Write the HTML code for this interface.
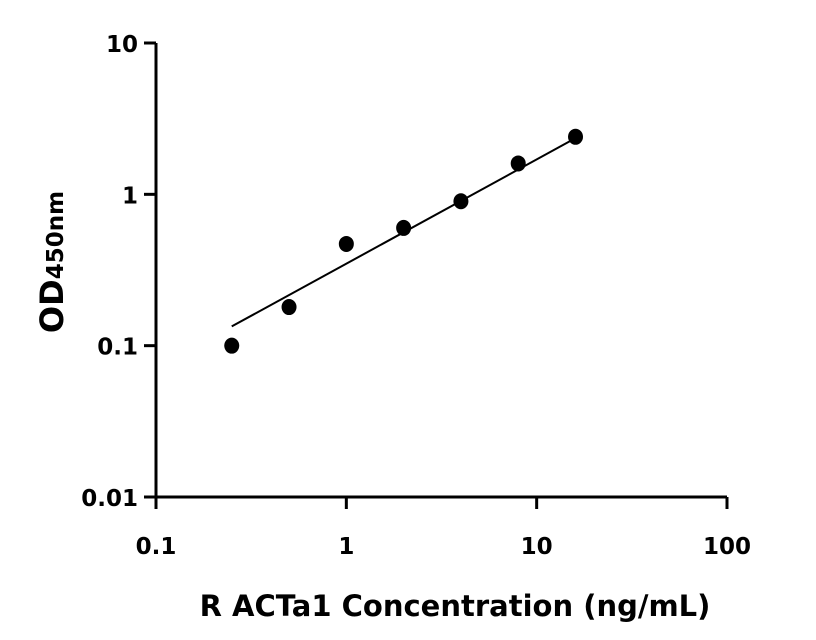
<!DOCTYPE html>
<html><head><meta charset="utf-8"><style>
html,body{margin:0;padding:0;background:#fff;}
svg{display:block;font-family:"DejaVu Sans","Liberation Sans",sans-serif;}
</style></head><body>
<svg id="chart" width="816" height="640" viewBox="0 0 816 640">
<g id="axes"></g><g id="marks"></g>
<text x="455" y="616" text-anchor="middle" font-size="29" font-weight="bold">R ACTa1 Concentration (ng/mL)</text>
<text transform="translate(63,262) rotate(-90)" text-anchor="middle" font-size="32" font-weight="bold">OD<tspan font-size="23">450nm</tspan></text>
</svg>
<script>
const xConc = [0.25, 0.5, 1, 2, 4, 8, 16];
const yOD = [0.1, 0.18, 0.47, 0.6, 0.9, 1.6, 2.4];
const fitX = [0.25, 16];
const fitY = [0.134, 2.35];
const xTicks = [0.1, 1, 10, 100];
const xTickLabels = ["0.1", "1", "10", "100"];
const yTicks = [0.01, 0.1, 1, 10];
const yTickLabels = ["0.01", "0.1", "1", "10"];

const X0=156, X1=727, Y0=497, Y1=43;
const xs = v => X0 + (Math.log10(v) + 1) / 3 * (X1 - X0);
const ys = v => Y0 - (Math.log10(v) + 2) / 3 * (Y0 - Y1);
const NS="http://www.w3.org/2000/svg";
const axes=document.getElementById('axes'), marks=document.getElementById('marks');
function mk(tag, attrs, parent){const e=document.createElementNS(NS,tag);for(const k in attrs)e.setAttribute(k,attrs[k]);parent.appendChild(e);return e;}

let a=mk('line',{x1:X0,y1:Y1,x2:X0,y2:Y0+1.5,stroke:'#000','stroke-width':3},axes);


a=mk('line',{x1:X0-1.5,y1:Y0,x2:X1,y2:Y0,stroke:'#000','stroke-width':3},axes);



xTicks.forEach((t,i)=>{
  const x=xs(t);
  const l=mk('line',{x1:x,y1:Y0,x2:x,y2:Y0+12,stroke:'#000','stroke-width':3},axes);
  
  
  const tx=mk('text',{x:x,y:Y0+57,'text-anchor':'middle','font-size':23,'font-weight':'bold'},axes);
  tx.textContent=xTickLabels[i];
  
  
});
yTicks.forEach((t,i)=>{
  const y=ys(t);
  const l=mk('line',{x1:X0-12,y1:y,x2:X0,y2:y,stroke:'#000','stroke-width':3},axes);
  
  
  const tx=mk('text',{x:X0-18,y:y+9,'text-anchor':'end','font-size':23,'font-weight':'bold'},axes);
  tx.textContent=yTickLabels[i];
  
  
});

const fl=mk('line',{x1:xs(fitX[0]),y1:ys(fitY[0]),x2:xs(fitX[1]),y2:ys(fitY[1]),stroke:'#000','stroke-width':2},marks);


xConc.forEach((c,i)=>{
  const p=mk('ellipse',{cx:xs(c),cy:ys(yOD[i]),rx:7.5,ry:8,fill:'#000'},marks);
  
  
});
</script>
</body></html>
